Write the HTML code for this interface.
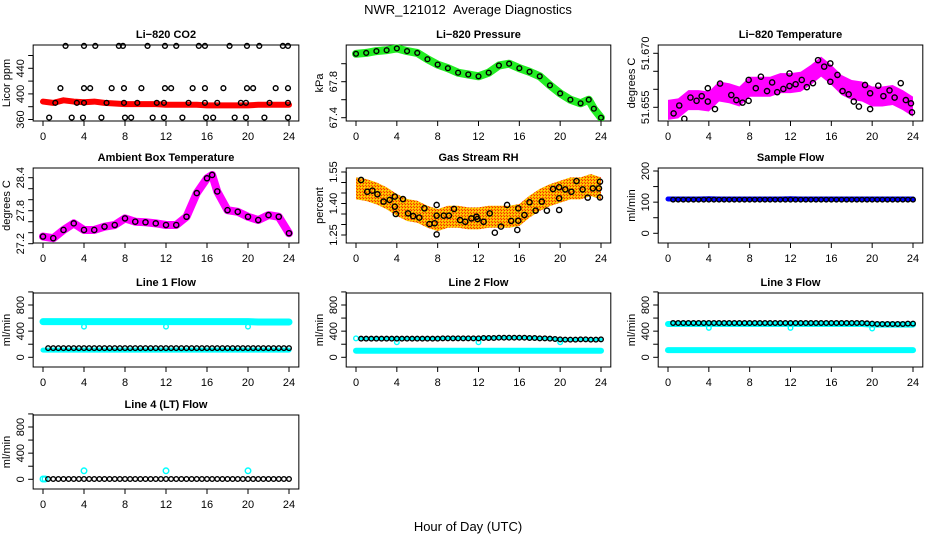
<!DOCTYPE html>
<html><head><meta charset="utf-8"><style>
html,body{margin:0;padding:0;background:#fff}
svg{display:block;font-family:"Liberation Sans",Arial,sans-serif}
</style></head><body>
<svg id="chart" width="936" height="540" viewBox="0 0 936 540" xmlns="http://www.w3.org/2000/svg">
<defs>
<pattern id="rhpat" width="3" height="3" patternUnits="userSpaceOnUse"><rect width="3" height="3" fill="#f8b000"/><rect width="1" height="1" fill="#ff2000"/><rect x="1" y="1" width="1" height="1" fill="#ffe000"/><rect x="2" y="2" width="1" height="1" fill="#ff4000"/></pattern>
</defs>
<text x="468" y="14" text-anchor="middle" font-size="13" style="white-space:pre">NWR_121012&#160;&#160;Average Diagnostics</text>
<text x="468" y="531" text-anchor="middle" font-size="13">Hour of Day (UTC)</text>
</svg>
<script>
// ---- data ----
const hours = [0,1,2,3,4,5,6,7,8,9,10,11,12,13,14,15,16,17,18,19,20,21,22,23,24];
const halfHours = [0.5,1,1.5,2,2.5,3,3.5,4,4.5,5,5.5,6,6.5,7,7.5,8,8.5,9,9.5,10,10.5,11,11.5,12,12.5,13,13.5,14,14.5,15,15.5,16,16.5,17,17.5,18,18.5,19,19.5,20,20.5,21,21.5,22,22.5,23,23.5,24];
const xTicks = [0,4,8,12,16,20,24];

const co2Red = [388,386,390,388,387,388,386,385,384,384,384,384,383,383,383,383,382,382,382,382,382,383,383,383,383];
const co2HiX = [2.2,4,5.1,7.4,7.8,10.2,11.9,13,15.2,15.8,18.2,19.9,21.1,23.4,23.9];
const co2HiY = [475,475,475,475,475,475,475,475,475,475,475,475,475,475,475];
const co2MidX = [1.7,4,4.6,6.7,7.9,9.6,11.9,12.5,14.6,15.8,17.6,19.9,20.5,22.7,23.9];
const co2MidY = [409,409,409,409,409,409,409,409,409,409,409,409,409,409,409];
const co2LowX = [1.2,3.3,4,6.2,7.9,9.2,11.1,11.8,14.2,15.8,17,19.3,19.8,22.1,23.9];
const co2LowY = [386,386,386,386,386,386,386,386,386,386,386,386,386,386,386];
const co2BotX = [0.6,2.8,3.9,5.7,8,8.6,10.7,11.8,13.6,15.9,16.6,18.7,19.8,21.6,23.9];
const co2BotY = [363,363,363,363,363,363,363,363,363,363,363,363,363,363,363];

const presX = [0,1,2,3,4,5,6,7,8,9,10,11,12,13,14,15,16,17,18,19,20,21,22,22.8,23.3,24];
const presY = [68.11,68.12,68.14,68.15,68.17,68.14,68.12,68.05,67.99,67.95,67.90,67.88,67.86,67.90,67.98,68.00,67.95,67.91,67.86,67.76,67.67,67.60,67.56,67.60,67.50,67.40];

const tempBand = [51.6543,51.6547,51.6570,51.6570,51.6566,51.6594,51.6589,51.6580,51.6607,51.6607,51.6607,51.6617,51.6617,51.6621,51.6640,51.6663,51.6640,51.6612,51.6598,51.6594,51.6580,51.6580,51.6584,51.6570,51.6552];
const tempPtX = [0.55,1.1,1.6,2.2,2.8,3.3,3.9,3.9,4.6,5.1,6.2,6.7,7.3,7.9,7.9,8.6,9.1,9.7,10.2,10.7,11.3,11.9,11.9,12.5,13.1,13.6,14.2,14.7,15.3,15.9,15.9,16.6,17.1,17.7,18.2,18.7,19.3,19.8,19.8,20.6,21.1,21.7,22.2,22.8,23.3,23.8,23.9];
const tempPtY = [51.6533,51.6555,51.6518,51.6577,51.6568,51.6581,51.6603,51.6566,51.6545,51.6616,51.6584,51.6570,51.6563,51.6626,51.6568,51.6603,51.6635,51.6595,51.6619,51.6592,51.6601,51.6644,51.6609,51.6614,51.6626,51.6606,51.6617,51.6681,51.6663,51.6672,51.6621,51.6640,51.6595,51.6586,51.6566,51.6552,51.6612,51.6589,51.6545,51.6610,51.6581,51.6597,51.6577,51.6617,51.6570,51.6561,51.6536];

const ambX = [0,1,2,3,4,5,6,7,8,9,10,11,12,13,14,15,16,16.5,17,18,19,20,21,22,23,24];
const ambY = [27.33,27.30,27.45,27.57,27.45,27.45,27.51,27.54,27.66,27.60,27.59,27.57,27.54,27.54,27.69,28.12,28.39,28.45,28.15,27.81,27.78,27.69,27.63,27.72,27.69,27.39];

const rhBand = [1.472,1.464,1.448,1.425,1.393,1.369,1.361,1.337,1.321,1.337,1.337,1.329,1.329,1.337,1.337,1.337,1.345,1.385,1.417,1.440,1.456,1.472,1.472,1.488,1.472];
const rhPtX = [0.5,1.1,1.6,2.1,2.7,3.3,3.8,3.8,3.9,4.6,5.1,5.6,6.2,6.7,7.2,7.7,7.9,7.9,7.9,8.6,9.1,9.6,10.2,10.7,11.3,11.8,11.9,12.5,13.1,13.6,14.2,14.8,15.2,15.8,15.9,15.9,16.5,17,17.6,18.2,18.7,19.3,19.9,19.9,19.9,20.5,21.1,21.6,22.2,22.7,23.2,23.8,23.9,23.9];
const rhPtY = [1.512,1.456,1.461,1.444,1.409,1.417,1.433,1.385,1.350,1.421,1.353,1.340,1.333,1.377,1.302,1.306,1.393,1.342,1.253,1.342,1.342,1.374,1.321,1.313,1.329,1.337,1.326,1.313,1.353,1.261,1.290,1.393,1.317,1.274,1.377,1.318,1.345,1.406,1.366,1.409,1.366,1.469,1.425,1.477,1.369,1.467,1.456,1.507,1.467,1.428,1.472,1.472,1.429,1.504];

const sampleBlue = [110,110,110,110,111,110,110,110,110,110,110,110,111,110,110,110,110,110,110,110,110,110,110,110,110];
const sampleBlack = [108,108,108,108,108,108,108,108,108,108,108,108,108,108,108,108,108,108,108,108,108,108,108,108,108,108,108,108,108,108,108,108,108,108,108,108,108,108,108,108,108,108,108,108,108,108,108,108];

const l1CyanHi = [545,545,545,545,545,545,545,545,545,545,545,545,545,545,545,545,545,545,545,545,545,540,540,540,540];
const l1CyanLo = [110,110,110,110,110,110,110,110,110,110,110,110,110,110,110,110,110,110,110,110,110,110,110,110,110];
const l1Black = [140,140,140,140,140,140,140,140,140,140,140,140,140,140,140,140,140,140,140,140,140,140,140,140,140,140,140,140,140,140,140,140,140,140,140,140,140,140,140,140,140,140,140,140,140,140,140,140];
const l1DipX = [4,12,20];
const l1DipY = [470,470,470];

const l2CyanLo = [100,100,100,100,100,100,100,100,100,100,100,100,100,100,100,100,100,100,100,100,100,100,100,100,100];
const l2Black = [285,285,285,285,285,285,285,285,285,285,285,285,285,285,285,285,290,290,290,290,290,290,290,290,295,295,295,300,300,300,300,300,300,295,295,290,290,285,280,275,270,270,270,275,275,270,270,275];
const l2DipX = [0,4,12,20];
const l2DipY = [290,230,230,230];

const l3CyanLo = [110,110,110,110,110,110,110,110,110,110,110,110,110,110,110,110,110,110,110,110,110,110,110,110,110];
const l3CyanHi = [510,510,510,510,510,510,510,510,510,510,510,510,510,510,510,510,510,510,510,510,500,500,500,500,500];
const l3Black = [525,525,525,525,525,525,525,525,525,525,525,525,525,525,525,525,525,525,525,525,525,525,525,525,525,525,525,525,525,525,525,525,525,525,525,525,525,525,520,515,510,510,510,510,510,510,515,515];
const l3DipX = [4,12,20];
const l3DipY = [450,450,440];

const l4Black = [5,5,5,5,5,5,5,5,5,5,5,5,5,5,5,5,5,5,5,5,5,5,5,5,5,5,5,5,5,5,5,5,5,5,5,5,5,5,5,5,5,5,5,5,5,5,5,5];
const l4SpikeX = [0,0.2,4,12,20];
const l4SpikeY = [5,5,130,130,130];

// ---- layout ----
const NS = "http://www.w3.org/2000/svg";
const svg = document.getElementById('chart');
function mk(tag, attrs, parent){const e=document.createElementNS(NS,tag);for(const k in attrs)e.setAttribute(k,attrs[k]);(parent||svg).appendChild(e);return e;}

function makePanel(o){
  const g = mk('g',{});
  
  
  const k=(o.x24-o.x0)/24;
  const sx=h=>o.x0+h*k;
  const sy=v=>o.ya+(v-o.va)*(o.yb-o.ya)/(o.vb-o.va);
  const L=o.x0-0.96*k, R=o.x24+0.96*k;
  const box = mk('rect',{x:L,y:o.top,width:R-L,height:o.bot-o.top,fill:'none',stroke:'#000','stroke-width':1},g);
  
  
  const t = mk('text',{x:(L+R)/2,y:o.top-7,'text-anchor':'middle','font-size':11,'font-weight':'bold'},g);
  t.textContent=o.title;
  
  
  mk('line',{x1:sx(0),x2:sx(24),y1:o.bot,y2:o.bot,stroke:'#000'},g);
  xTicks.forEach(v=>{
    mk('line',{x1:sx(v),x2:sx(v),y1:o.bot,y2:o.bot+5,stroke:'#000'},g);
    const tl=mk('text',{x:sx(v),y:o.bot+19,'text-anchor':'middle','font-size':11},g);
    tl.textContent=v;
    
    
  });
  const yt=o.yticks;
  mk('line',{x1:L,x2:L,y1:sy(yt[0]),y2:sy(yt[yt.length-1]),stroke:'#000'},g);
  yt.forEach(v=>mk('line',{x1:L-5,x2:L,y1:sy(v),y2:sy(v),stroke:'#000'},g));
  o.ylabels.forEach(v=>{
    const y=sy(v), x=L-9;
    const tl=mk('text',{x:x,y:y,'text-anchor':'middle','font-size':11,transform:`rotate(-90 ${x} ${y})`},g);
    tl.textContent=o.fmt?o.fmt(v):v;
    
    
  });
  const yx=L-23, ym=(o.top+o.bot)/2;
  const yl=mk('text',{x:yx,y:ym,'text-anchor':'middle','font-size':11,transform:`rotate(-90 ${yx} ${ym})`},g);
  yl.textContent=o.ylab;
  
  
  const clip='c'+o.name;
  const cp=mk('clipPath',{id:clip},g); mk('rect',{x:L,y:o.top-6,width:R-L,height:o.bot-o.top+6},cp);
  const d=mk('g',{'clip-path':`url(#${clip})`},g);
  return {sx,sy,d};
}
function line(p,xs,ys,color,w,name){
  const pts=xs.map((x,i)=>p.sx(x)+','+p.sy(ys[i])).join(' ');
  const e=mk('polyline',{points:pts,fill:'none',stroke:color,'stroke-width':w,'stroke-linejoin':'round','stroke-linecap':'round'},p.d);
  
  
}
function band(p,xs,ys,half,fill,name){
  const up=xs.map((x,i)=>p.sx(x)+','+(p.sy(ys[i])-half));
  const dn=xs.map((x,i)=>p.sx(x)+','+(p.sy(ys[i])+half)).reverse();
  const e=mk('polygon',{points:up.concat(dn).join(' '),fill:fill,stroke:'none'},p.d);
  
  
}
function circles(p,xs,ys,color,r,name){
  xs.forEach((x,i)=>{
    const c=mk('circle',{cx:p.sx(x),cy:p.sy(ys[i]),r:r,fill:'none',stroke:color,'stroke-width':1.4},p.d);
    
    
  });
}

let p=makePanel({name:'co2-panel',title:'Li\u2212820 CO2',x0:43,x24:289,top:45,bot:121,va:360,ya:119.5,vb:440,yb:68.3,yticks:[360,380,400,420,440,460],ylabels:[360,400,440],ylab:'Licor ppm'});
line(p,hours,co2Red,'#ff0000',6,'co2-series');
circles(p,co2HiX,co2HiY,'#000',2.4,'co2-point');
circles(p,co2MidX,co2MidY,'#000',2.4,'co2-point');
circles(p,co2LowX,co2LowY,'#000',2.4,'co2-point');
circles(p,co2BotX,co2BotY,'#000',2.4,'co2-point');

p=makePanel({name:'pressure-panel',title:'Li\u2212820 Pressure',x0:356,x24:601,top:45,bot:121,va:67.4,ya:117.7,vb:67.8,yb:81.7,yticks:[67.4,67.6,67.8,68.0],ylabels:[67.4,67.8],ylab:'kPa',fmt:v=>v.toFixed(1)});
line(p,presX,presY,'#22ee22',8,'pressure-series');
circles(p,presX,presY,'#000',2.4,'pressure-point');

p=makePanel({name:'li820-temperature-panel',title:'Li\u2212820 Temperature',x0:668,x24:913,top:45,bot:121,va:51.655,ya:107.3,vb:51.670,yb:53.3,yticks:[51.655,51.660,51.665,51.670],ylabels:[51.655,51.670],ylab:'degrees C',fmt:v=>v.toFixed(3)});
band(p,hours,tempBand,10,'#ff00ff','temperature-cloud');
circles(p,tempPtX,tempPtY,'#000',2.6,'temperature-point');

p=makePanel({name:'ambient-temperature-panel',title:'Ambient Box Temperature',x0:43,x24:289,top:168,bot:243,va:27.2,ya:243.7,vb:28.4,yb:177.7,yticks:[27.2,27.4,27.6,27.8,28.0,28.2,28.4],ylabels:[27.2,27.8,28.4],ylab:'degrees C',fmt:v=>v.toFixed(1)});
line(p,ambX,ambY,'#ff00ff',8,'ambient-series');
circles(p,ambX,ambY,'#000',2.6,'ambient-point');

p=makePanel({name:'gas-stream-rh-panel',title:'Gas Stream RH',x0:356,x24:601,top:168,bot:243,va:1.25,ya:235,vb:1.55,yb:172,yticks:[1.25,1.30,1.35,1.40,1.45,1.50,1.55],ylabels:[1.25,1.40,1.55],ylab:'percent',fmt:v=>v.toFixed(2)});
band(p,hours,rhBand,11,'url(#rhpat)','rh-cloud');
circles(p,rhPtX,rhPtY,'#000',2.6,'rh-point');

p=makePanel({name:'sample-flow-panel',title:'Sample Flow',x0:668,x24:913,top:168,bot:243,va:0,ya:233.3,vb:200,yb:171,yticks:[0,50,100,150,200],ylabels:[0,100,200],ylab:'ml/min'});
line(p,hours,sampleBlue,'#0000ff',5,'sample-flow-series');
circles(p,halfHours,sampleBlack,'#000',2.3,'sample-flow-point');

const flowTicks=[0,200,400,600,800,1000], flowLabels=[0,400,800];
p=makePanel({name:'line1-flow-panel',title:'Line 1 Flow',x0:43,x24:289,top:293,bot:367,va:0,ya:357.3,vb:800,yb:305,yticks:flowTicks,ylabels:flowLabels,ylab:'ml/min'});
line(p,hours,l1CyanHi,'#00ffff',7,'line1-cyan-high');
line(p,hours,l1CyanLo,'#00ffff',5,'line1-cyan-low');
circles(p,l1DipX,l1DipY,'#00ffff',2.3,'line1-cyan-point');
circles(p,halfHours,l1Black,'#000',2.3,'line1-black-point');

p=makePanel({name:'line2-flow-panel',title:'Line 2 Flow',x0:356,x24:601,top:293,bot:367,va:0,ya:357.3,vb:800,yb:305,yticks:flowTicks,ylabels:flowLabels,ylab:'ml/min'});
line(p,hours,l2CyanLo,'#00ffff',6,'line2-cyan-low');
circles(p,l2DipX,l2DipY,'#00ffff',2.3,'line2-cyan-point');
line(p,halfHours,l2Black,'#00ffff',3,'line2-cyan-high');
circles(p,halfHours,l2Black,'#000',2.3,'line2-black-point');

p=makePanel({name:'line3-flow-panel',title:'Line 3 Flow',x0:668,x24:913,top:293,bot:367,va:0,ya:357.3,vb:800,yb:305,yticks:flowTicks,ylabels:flowLabels,ylab:'ml/min'});
line(p,hours,l3CyanLo,'#00ffff',6,'line3-cyan-low');
line(p,hours,l3CyanHi,'#00ffff',6,'line3-cyan-high');
circles(p,l3DipX,l3DipY,'#00ffff',2.3,'line3-cyan-point');
circles(p,halfHours,l3Black,'#000',2.3,'line3-black-point');

p=makePanel({name:'line4-flow-panel',title:'Line 4 (LT) Flow',x0:43,x24:289,top:415,bot:489,va:0,ya:479.3,vb:800,yb:427,yticks:flowTicks,ylabels:flowLabels,ylab:'ml/min'});
circles(p,l4SpikeX,l4SpikeY,'#00ffff',2.8,'line4-cyan-point');
circles(p,halfHours,l4Black,'#000',2.3,'line4-black-point');
</script>
</body></html>
